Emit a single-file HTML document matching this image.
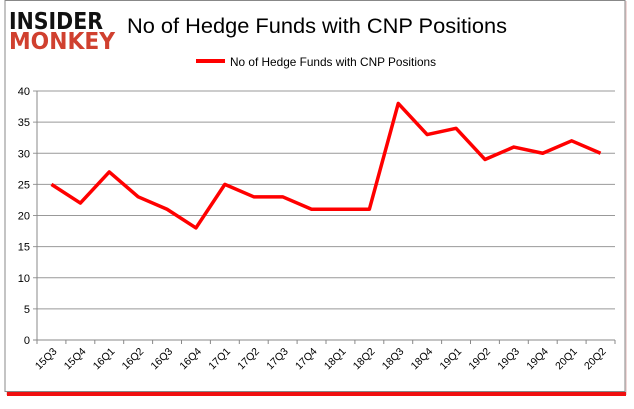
<!DOCTYPE html>
<html><head><meta charset="utf-8"><style>
body{margin:0;background:#fff;width:634px;height:404px;overflow:hidden;font-family:"Liberation Sans",sans-serif}
</style></head><body>
<svg width="634" height="404">
<rect x="6" y="1" width="621" height="394" fill="#f0d8d8"/>
<rect x="7" y="392" width="619" height="4" fill="#f01010"/>
<rect x="5" y="0.5" width="620" height="391" fill="#fff" stroke="#888"/>
<g>
<text x="9" y="29" font-family="DejaVu Sans" font-weight="bold" font-size="23" fill="#111" textLength="94" lengthAdjust="spacingAndGlyphs">INSIDER</text>
<text x="9" y="49" font-family="DejaVu Sans" font-weight="bold" font-size="23" fill="#d0402f" textLength="106" lengthAdjust="spacingAndGlyphs">MONKEY</text>
</g>
<text x="127" y="33" font-size="21" fill="#000" textLength="380" lengthAdjust="spacingAndGlyphs">No of Hedge Funds with CNP Positions</text>
<line x1="196" y1="61" x2="225" y2="61" stroke="#f00" stroke-width="4"/>
<text x="230" y="66" font-size="12" fill="#000" textLength="206" lengthAdjust="spacingAndGlyphs">No of Hedge Funds with CNP Positions</text>
<g id="axes"></g>
<g id="marks"></g>
</svg>
<script>
const categories=["15Q3","15Q4","16Q1","16Q2","16Q3","16Q4","17Q1","17Q2","17Q3","17Q4","18Q1","18Q2","18Q3","18Q4","19Q1","19Q2","19Q3","19Q4","20Q1","20Q2"];
const values=[25,22,27,23,21,18,25,23,23,21,21,21,38,33,34,29,31,30,32,30];
const yTicks=[0,5,10,15,20,25,30,35,40];
const NS="http://www.w3.org/2000/svg";
const x0=37,x1=615,y0=340,y1=91,yMax=40;
const bw=(x1-x0)/categories.length;
function xs(i){return x0+bw*(i+0.5);}
function ys(v){return y0-(v/yMax)*(y0-y1);}
const ax=document.getElementById('axes');
function mk(t,a,p){const e=document.createElementNS(NS,t);for(const k in a)e.setAttribute(k,a[k]);(p||ax).appendChild(e);return e;}
yTicks.forEach(v=>{
 const l=mk('line',{x1:x0-4,x2:x1,y1:ys(v),y2:ys(v),stroke:v===0?'#888':'#999'});
 
 
 const t=mk('text',{x:x0-7,y:ys(v)+4,'text-anchor':'end','font-size':'11',fill:'#000'});
 t.textContent=v;
 
 
});
const ya=mk('line',{x1:x0,x2:x0,y1:y1,y2:y0,stroke:'#888'});


categories.forEach((c,i)=>{
 const tk=mk('line',{x1:x0+bw*i,x2:x0+bw*i,y1:y0,y2:y0+4,stroke:'#888'});
 
 
 const t=mk('text',{x:xs(i)+6,y:y0+12,'text-anchor':'end','font-size':'10.5',fill:'#000',transform:`rotate(-45 ${xs(i)+6} ${y0+12})`});
 t.textContent=c;
 
 
});
const tk=mk('line',{x1:x1,x2:x1,y1:y0,y2:y0+4,stroke:'#888'});


const p=mk('polyline',{points:values.map((v,i)=>xs(i)+','+ys(v)).join(' '),fill:'none',stroke:'#f00','stroke-width':'3.5','stroke-linejoin':'round'},document.getElementById('marks'));


</script>
</body></html>
